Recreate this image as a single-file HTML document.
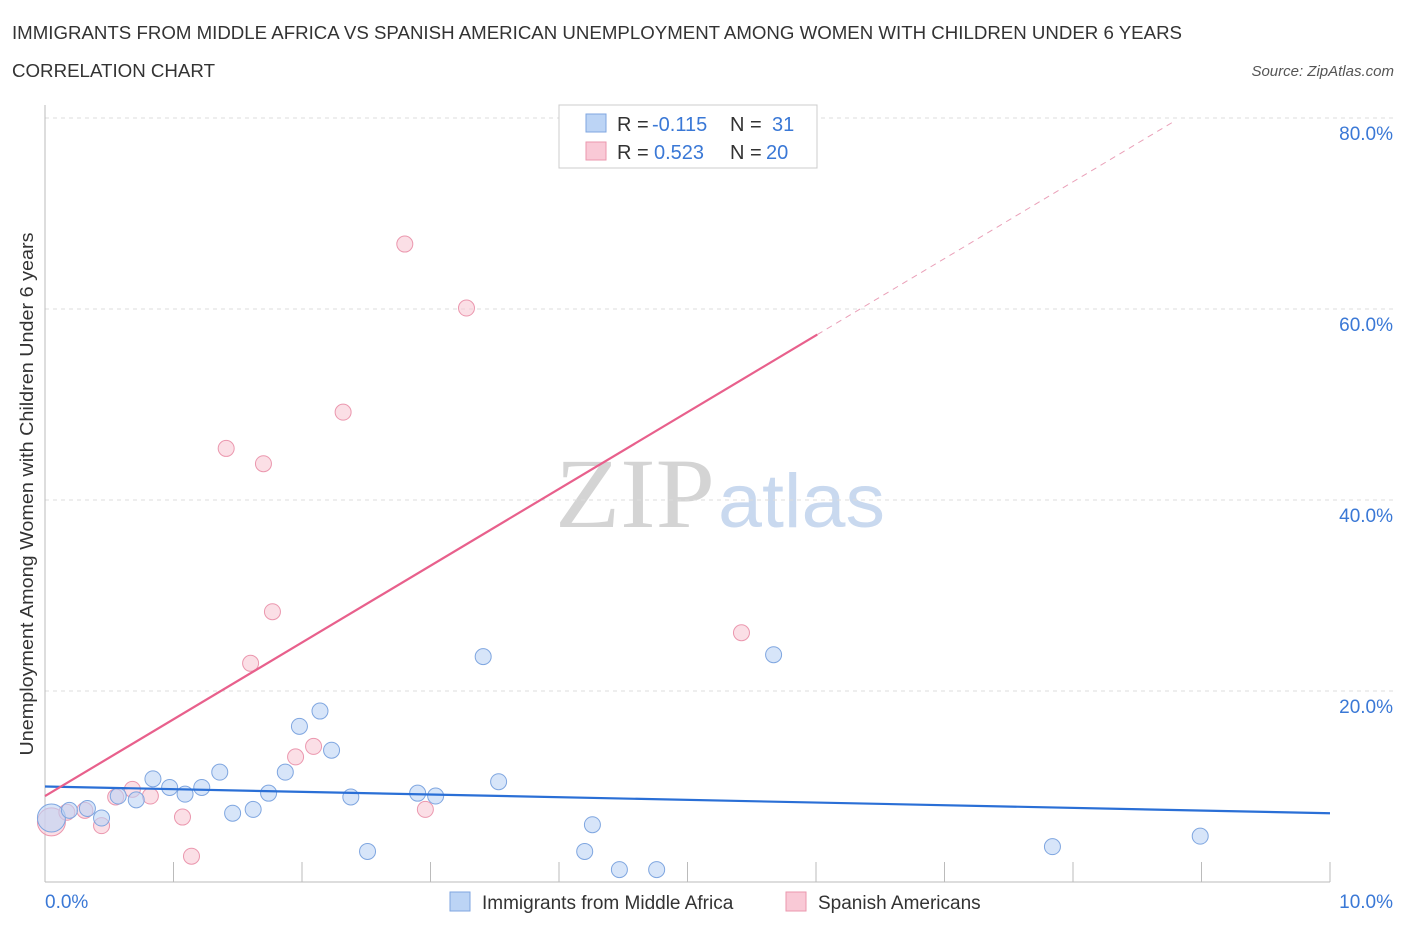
<!DOCTYPE html>
<html><head><meta charset="utf-8"><style>
body{margin:0;background:#fff;font-family:"Liberation Sans",sans-serif;}
svg text{font-family:"Liberation Sans",sans-serif;}
</style></head><body>
<svg id="chart" width="1406" height="930">
<text x="12" y="39" font-size="18" fill="#333" textLength="1170" lengthAdjust="spacingAndGlyphs">IMMIGRANTS FROM MIDDLE AFRICA VS SPANISH AMERICAN UNEMPLOYMENT AMONG WOMEN WITH CHILDREN UNDER 6 YEARS</text>
<text x="12" y="77" font-size="18" fill="#333" textLength="203" lengthAdjust="spacingAndGlyphs">CORRELATION CHART</text>
<text x="1394" y="76" font-size="15" fill="#555" font-style="italic" text-anchor="end">Source: ZipAtlas.com</text>
<text x="33" y="494" font-size="18.5" fill="#333" text-anchor="middle" textLength="523" lengthAdjust="spacingAndGlyphs" transform="rotate(-90 33 494)">Unemployment Among Women with Children Under 6 years</text>
<text x="555" y="527" font-size="100" fill="#d4d4d4" textLength="160" lengthAdjust="spacingAndGlyphs" style="font-family:'Liberation Serif',serif">ZIP</text>
<text x="718" y="527" font-size="76" fill="#c9d9ef" textLength="167" lengthAdjust="spacingAndGlyphs">atlas</text>
<g id="grid"></g><g id="marks"></g>
<rect x="559" y="105" width="258" height="63" fill="#fff" stroke="#ccc"/>
<rect x="586" y="114" width="20" height="18" fill="#bcd4f5" stroke="#7fa6e0"/>
<rect x="586" y="142" width="20" height="18" fill="#f9c9d6" stroke="#eb97ae"/>
<g font-size="20">
<text x="617" y="131" fill="#333">R =</text><text x="652" y="131" fill="#3a78d6">-0.115</text>
<text x="730" y="131" fill="#333">N =</text><text x="772" y="131" fill="#3a78d6">31</text></g>
<g font-size="20">
<text x="617" y="159" fill="#333">R =</text><text x="654" y="159" fill="#3a78d6">0.523</text>
<text x="730" y="159" fill="#333">N =</text><text x="766" y="159" fill="#3a78d6">20</text></g>
<rect x="450" y="892" width="20" height="19" fill="#bcd4f5" stroke="#7fa6e0"/>
<text x="482" y="909" font-size="19" fill="#333">Immigrants from Middle Africa</text>
<rect x="786" y="892" width="20" height="19" fill="#f9c9d6" stroke="#eb97ae"/>
<text x="818" y="909" font-size="19" fill="#333">Spanish Americans</text>
</svg>
<script>
const blueX=[0.05,0.19,0.33,0.44,0.57,0.71,0.84,0.97,1.09,1.22,1.36,1.46,1.62,1.74,1.87,1.98,2.14,2.23,2.38,2.51,2.90,3.04,3.41,3.53,4.20,4.26,4.47,4.76,5.67,7.84,8.99];
const blueY=[6.7,7.5,7.7,6.7,9.0,8.6,10.8,9.9,9.2,9.9,11.5,7.2,7.6,9.3,11.5,16.3,17.9,13.8,8.9,3.2,9.3,9.0,23.6,10.5,3.2,6.0,1.3,1.3,23.8,3.7,4.8];
const pinkX=[0.05,0.17,0.31,0.44,0.55,0.68,0.82,1.07,1.14,1.41,1.60,1.70,1.77,1.95,2.09,2.32,2.80,2.96,3.28,5.42];
const pinkY=[6.3,7.3,7.5,5.9,8.9,9.7,9.0,6.8,2.7,45.4,22.9,43.8,28.3,13.1,14.2,49.2,66.8,7.6,60.1,26.1];
const yTicks=[20,40,60,80];
const xTickLabels=["0.0%","10.0%"];
const blueLine=[10.0,7.2];
const pinkIntercept=9.0, pinkSlope=8.04, pinkSolidEnd=6.01, pinkDashEnd=8.79;
const NS="http://www.w3.org/2000/svg";
const sx=v=>45+v*128.5, sy=v=>882-v*9.55;
function mk(t,a,p){const e=document.createElementNS(NS,t);for(const k in a)e.setAttribute(k,a[k]);p.appendChild(e);return e;}
const g=document.getElementById('grid'), m=document.getElementById('marks');
yTicks.forEach(t=>{
 const l=mk('line',{x1:45,x2:1395,y1:sy(t),y2:sy(t),stroke:'#ddd','stroke-dasharray':'4,4'},g);
 
 
 const tx=mk('text',{x:1393,y:sy(t)+22,'font-size':19,fill:'#3a78d6','text-anchor':'end'},g);
 tx.textContent=t.toFixed(1)+'%';
 
 
});
const ax=mk('line',{x1:45,x2:45,y1:105,y2:882,stroke:'#bbb'},g);


const bx=mk('line',{x1:45,x2:1330,y1:882,y2:882,stroke:'#bbb'},g);


for(let i=0;i<=10;i++){
 const t=mk('line',{x1:sx(i),x2:sx(i),y1:862,y2:882,stroke:'#bbb'},g);
 
 
}
[[0,'start'],[10,'end']].forEach((p,i)=>{
 const t=mk('text',{x:i?1393:45,y:908,'font-size':19,fill:'#3a78d6','text-anchor':p[1]},g);
 t.textContent=xTickLabels[i];
 
 
});
function pts(X,Y,fill,stroke,name){X.forEach((x,i)=>{
 const c=mk('circle',{cx:sx(x),cy:sy(Y[i]),r:i==0?14:8,fill:fill,'fill-opacity':0.6,stroke:stroke,'stroke-width':1},m);
 
 
});}
pts(pinkX,pinkY,'#f9c9d6','#eb97ae','pink-point');
pts(blueX,blueY,'#bcd4f5','#7fa6e0','blue-point');
const bl=mk('line',{x1:sx(0),y1:sy(blueLine[0]),x2:sx(10),y2:sy(blueLine[1]),stroke:'#2a6fd6','stroke-width':2.2},m);


const pl=mk('line',{x1:sx(0),y1:sy(pinkIntercept),x2:sx(pinkSolidEnd),y2:sy(pinkIntercept+pinkSlope*pinkSolidEnd),stroke:'#e8608c','stroke-width':2.2},m);


const pd=mk('line',{x1:sx(pinkSolidEnd),y1:sy(pinkIntercept+pinkSlope*pinkSolidEnd),x2:sx(pinkDashEnd),y2:sy(pinkIntercept+pinkSlope*pinkDashEnd),stroke:'#eaa0b8','stroke-width':1,'stroke-dasharray':'6,5'},m);


</script>
</body></html>
